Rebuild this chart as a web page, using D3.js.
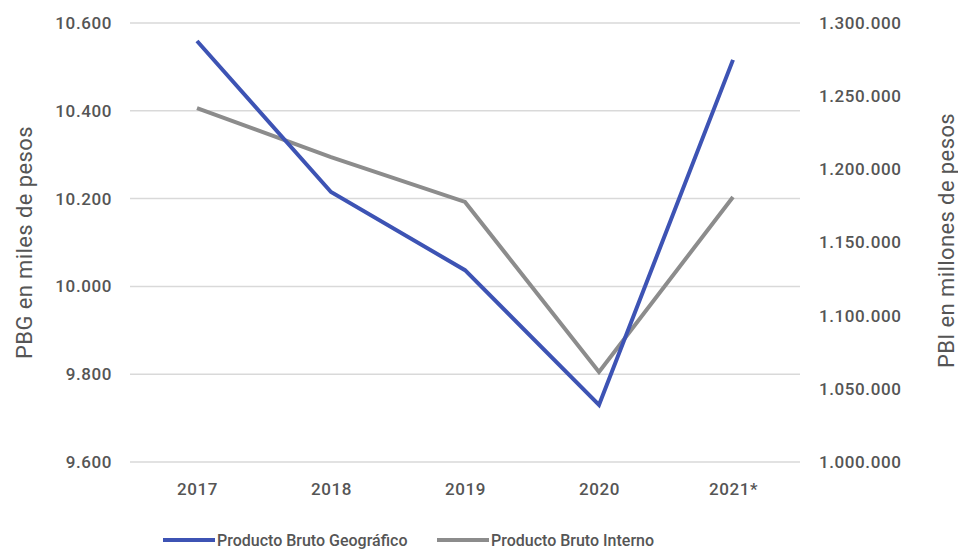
<!DOCTYPE html>
<html><head><meta charset="utf-8">
<script src="https://cdn.jsdelivr.net/npm/d3@7"></script>
<style>body{margin:0;background:#fff}svg text{font-family:Roboto,"DejaVu Sans",sans-serif;fill:#555}</style>
</head><body><svg id="c" width="958" height="552"></svg>
<script>
const years = ["2017","2018","2019","2020","2021*"];
const pbg = [10559, 10215, 10037, 9730, 10516];
const pbi = [1241900, 1208400, 1177700, 1061500, 1181100];
const leftTicks = [9600, 9800, 10000, 10200, 10400, 10600];
const rightTicks = [1000000, 1050000, 1100000, 1150000, 1200000, 1250000, 1300000];
const seriesNames = ["Producto Bruto Geográfico", "Producto Bruto Interno"];
const colors = ["#3d53b4", "#8c8c8c"];

const svg = d3.select("#c");
const L = 130, R = 800, T = 23, B = 462;
const x = d3.scalePoint().domain(years).range([L, R]).padding(0.5);
const yL = d3.scaleLinear().domain([9600, 10600]).range([B, T]);
const yR = d3.scaleLinear().domain([1000000, 1300000]).range([B, T]);
const fmt = v => d3.format(",")(v).replace(/,/g, ".");

// gridlines
svg.append("g").selectAll("line").data(leftTicks).join("line")
  .attr("x1", L).attr("x2", R).attr("y1", d => yL(d)).attr("y2", d => yL(d))
  .attr("stroke", "#d9d9d9").attr("stroke-width", 1.5);

const tickStyle = sel => sel.style("font-size", "17px").style("font-weight", "500").style("letter-spacing", "0.6px");

const gl = svg.append("g").attr("transform", `translate(${L},0)`)
  .call(d3.axisLeft(yL).tickValues(leftTicks).tickFormat(fmt).tickSize(0).tickPadding(18));
gl.select(".domain").remove();
gl.selectAll("text").attr("dy", "0.32em").call(tickStyle);

const gr = svg.append("g").attr("transform", `translate(${R},0)`)
  .call(d3.axisRight(yR).tickValues(rightTicks).tickFormat(fmt).tickSize(0).tickPadding(19));
gr.select(".domain").remove();
gr.selectAll("text").attr("dy", "0.32em").call(tickStyle);

const gx = svg.append("g").attr("transform", `translate(0,${B})`)
  .call(d3.axisBottom(x).tickSize(0).tickPadding(21));
gx.select(".domain").remove();
gx.selectAll("text").call(tickStyle);

svg.append("text").attr("transform", `translate(32,${(T+B)/2}) rotate(-90)`)
  .attr("text-anchor", "middle").style("font-size", "22px").style("letter-spacing", "0.4px").text("PBG en miles de pesos");
svg.append("text").attr("transform", `translate(954,${(T+B)/2 - 2}) rotate(-90)`)
  .attr("text-anchor", "middle").style("font-size", "22px").style("letter-spacing", "0.4px").text("PBI en millones de pesos");

const line = (ys) => d3.line().x((d, i) => x(years[i])).y(d => ys(d));
svg.append("path").datum(pbi).attr("d", line(yR)).attr("fill", "none")
  .attr("stroke", colors[1]).attr("stroke-width", 4);
svg.append("path").datum(pbg).attr("d", line(yL)).attr("fill", "none")
  .attr("stroke", colors[0]).attr("stroke-width", 4);

// legend
const lg = [{x: 163, n: seriesNames[0], c: colors[0]}, {x: 437, n: seriesNames[1], c: colors[1]}];
const g = svg.append("g").selectAll("g").data(lg).join("g").attr("transform", d => `translate(${d.x},540)`);
g.append("line").attr("x1", 0).attr("x2", 52).attr("stroke", d => d.c).attr("stroke-width", 4);
g.append("text").attr("x", 54).attr("dy", "0.35em").style("font-size", "16px").style("font-weight", "500").text(d => d.n);
</script></body></html>
